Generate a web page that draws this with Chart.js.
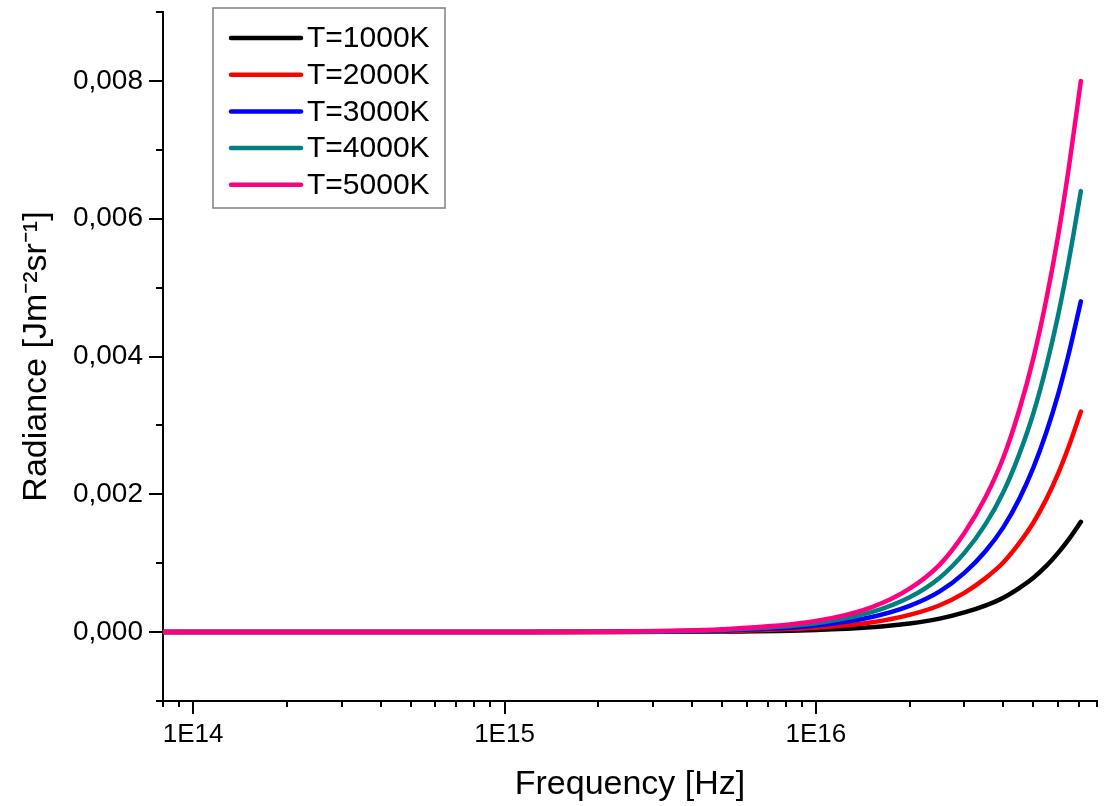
<!DOCTYPE html>
<html>
<head>
<meta charset="utf-8">
<title>Radiance vs Frequency</title>
<script src="https://cdn.jsdelivr.net/npm/chart.js@4.4.0/dist/chart.umd.min.js"></script>
<style>
  html, body { margin: 0; padding: 0; background: #ffffff; }
  canvas { display: block; }
</style>
</head>
<body>
<canvas id="radianceChart" width="1105" height="806"></canvas>
<script>
// 频率采样点 (Hz)
const frequencies = [8e13, 1e14, 2e14, 5e14, 1e15, 2e15, 5e15, 1e16, 1.5e16, 2e16, 2.5e16,
    3e16, 3.5e16, 4e16, 4.5e16, 5e16, 5.5e16, 6e16, 6.5e16, 7.1e16];

// 各温度下的辐射亮度
const radiance1000 = [0, 0, 0, 1e-7, 3e-7, 1.3e-6, 8e-6, 3.2e-5, 7e-5, 1.25e-4, 1.95e-4,
    2.85e-4, 3.85e-4, 5.0e-4, 6.4e-4, 7.9e-4, 9.6e-4, 1.15e-3, 1.35e-3, 1.6e-3];
const radiance2000 = [0, 0, 0, 2e-7, 6e-7, 2.6e-6, 1.6e-5, 6.4e-5, 1.4e-4, 2.5e-4, 3.9e-4,
    5.7e-4, 7.8e-4, 1.01e-3, 1.29e-3, 1.59e-3, 1.93e-3, 2.3e-3, 2.7e-3, 3.2e-3];
const radiance3000 = [0, 0, 0, 3e-7, 9e-7, 3.9e-6, 2.4e-5, 9.6e-5, 2.15e-4, 3.8e-4, 5.9e-4,
    8.6e-4, 1.17e-3, 1.52e-3, 1.93e-3, 2.39e-3, 2.9e-3, 3.45e-3, 4.05e-3, 4.8e-3];
const radiance4000 = [0, 0, 0, 4e-7, 1.2e-6, 5.2e-6, 3.2e-5, 1.28e-4, 2.85e-4, 5.05e-4, 7.9e-4,
    1.15e-3, 1.56e-3, 2.03e-3, 2.58e-3, 3.18e-3, 3.86e-3, 4.6e-3, 5.4e-3, 6.4e-3];
const radiance5000 = [0, 0, 0, 5e-7, 1.5e-6, 6.5e-6, 4.0e-5, 1.6e-4, 3.55e-4, 6.3e-4, 9.8e-4,
    1.44e-3, 1.95e-3, 2.53e-3, 3.22e-3, 3.98e-3, 4.83e-3, 5.75e-3, 6.75e-3, 8.0e-3];

const seriesLabels = ['T=1000K', 'T=2000K', 'T=3000K', 'T=4000K', 'T=5000K'];
const seriesColors = ['#000000', '#ff0000', '#0000ff', '#008080', '#ff0080'];
const seriesValues = [radiance1000, radiance2000, radiance3000, radiance4000, radiance5000];

// x轴刻度: 每个十倍区间内的 1..9 倍
const xMin = 8e13;
const xMax = 8e16;
const xTickValues = [];
for (let e = 13; e <= 16; e++) {
    for (let m = 1; m <= 9; m++) {
        const v = m * Math.pow(10, e);
        if (v >= xMin && v <= xMax) xTickValues.push(v);
    }
}

const FONT = "'Liberation Sans', Arial, sans-serif";
Chart.defaults.font.family = FONT;
Chart.defaults.color = '#000000';

function isDecade(v) {
    const e = Math.log10(v);
    return Math.abs(e - Math.round(e)) < 1e-9;
}

function isMajorY(v) {
    return Math.round(v * 1000) % 2 === 0;
}

/**
 * 刻度线: 主刻度长, 次刻度短 (朝外)
 */
const tickMarks = {
    id: 'tickMarks',
    afterDraw(chart) {
        const ctx = chart.ctx;
        const xs = chart.scales.x;
        const ys = chart.scales.y;
        const area = chart.chartArea;
        ctx.save();
        ctx.strokeStyle = '#000000';
        ctx.lineWidth = 2;
        ctx.beginPath();
        xs.ticks.forEach(t => {
            const px = Math.round(xs.getPixelForValue(t.value));
            const len = isDecade(t.value) ? 13 : 6;
            ctx.moveTo(px, area.bottom);
            ctx.lineTo(px, area.bottom + len);
        });
        ys.ticks.forEach(t => {
            const py = Math.round(ys.getPixelForValue(t.value));
            const len = isMajorY(t.value) ? 14 : 7;
            ctx.moveTo(area.left, py);
            ctx.lineTo(area.left - len, py);
        });
        ctx.stroke();
        ctx.restore();
    }
};

/**
 * 图例: 画在绘图区左上方, 带灰色边框
 */
const boxLegend = {
    id: 'boxLegend',
    afterDraw(chart) {
        const ctx = chart.ctx;
        const boxX = 213, boxY = 8, boxW = 232, boxH = 200;
        ctx.save();
        ctx.fillStyle = '#ffffff';
        ctx.fillRect(boxX, boxY, boxW, boxH);
        ctx.strokeStyle = '#808080';
        ctx.lineWidth = 1.5;
        ctx.strokeRect(boxX, boxY, boxW, boxH);
        ctx.font = '30px ' + FONT;
        ctx.textBaseline = 'middle';
        ctx.textAlign = 'left';
        chart.data.datasets.forEach((ds, i) => {
            const cy = boxY + 30 + i * 36.7;
            ctx.strokeStyle = ds.borderColor;
            ctx.lineWidth = 4.5;
            ctx.lineCap = 'round';
            ctx.beginPath();
            ctx.moveTo(231, cy);
            ctx.lineTo(301, cy);
            ctx.stroke();
            ctx.fillStyle = '#000000';
            ctx.fillText(ds.label, 307, cy + 1);
        });
        ctx.restore();
    }
};

const datasets = seriesLabels.map((label, i) => ({
    label: label,
    data: frequencies.map((f, j) => ({ x: f, y: seriesValues[i][j] })),
    borderColor: seriesColors[i],
    backgroundColor: seriesColors[i],
    borderWidth: 4.5,
    borderCapStyle: 'round',
    borderJoinStyle: 'round',
    pointRadius: 0,
    cubicInterpolationMode: 'monotone',
    fill: false,
    order: seriesLabels.length - 1 - i
}));

new Chart(document.getElementById('radianceChart'), {
    type: 'line',
    data: { datasets: datasets },
    options: {
        responsive: false,
        animation: false,
        layout: { padding: { top: 12, right: 8, left: 0, bottom: 0 } },
        plugins: {
            legend: { display: false },
            tooltip: { enabled: false }
        },
        scales: {
            x: {
                type: 'logarithmic',
                min: xMin,
                max: xMax,
                afterBuildTicks: scale => {
                    scale.ticks = xTickValues.map(v => ({ value: v, major: isDecade(v) }));
                },
                afterFit: scale => {
                    scale.height = 105;
                    scale.paddingLeft = 0;
                    scale.paddingRight = 0;
                },
                grid: { display: false, drawTicks: false },
                border: { display: true, color: '#000000', width: 2 },
                ticks: {
                    autoSkip: false,
                    maxRotation: 0,
                    minRotation: 0,
                    padding: 18,
                    color: '#000000',
                    font: { size: 26 },
                    callback: function (value) {
                        return isDecade(value) ? '1E' + Math.round(Math.log10(value)) : '';
                    }
                },
                title: {
                    display: true,
                    text: 'Frequency [Hz]',
                    color: '#000000',
                    font: { size: 34 },
                    padding: { top: 0, bottom: 1 }
                }
            },
            y: {
                type: 'linear',
                min: -0.001,
                max: 0.009,
                afterFit: scale => {
                    scale.width = 163;
                    scale.paddingTop = 0;
                    scale.paddingBottom = 0;
                },
                grid: { display: false, drawTicks: false },
                border: { display: true, color: '#000000', width: 2 },
                ticks: {
                    stepSize: 0.001,
                    autoSkip: false,
                    padding: 20,
                    color: '#000000',
                    font: { size: 28 },
                    callback: function (value) {
                        if (!isMajorY(value)) return '';
                        return Math.abs(value).toFixed(3).replace('.', ',');
                    }
                },
                title: {
                    display: true,
                    text: 'Radiance [Jm⁻²sr⁻¹]',
                    color: '#000000',
                    font: { size: 34 },
                    padding: { top: 16, bottom: 0 }
                }
            }
        }
    },
    plugins: [tickMarks, boxLegend]
});
</script>
</body>
</html>
